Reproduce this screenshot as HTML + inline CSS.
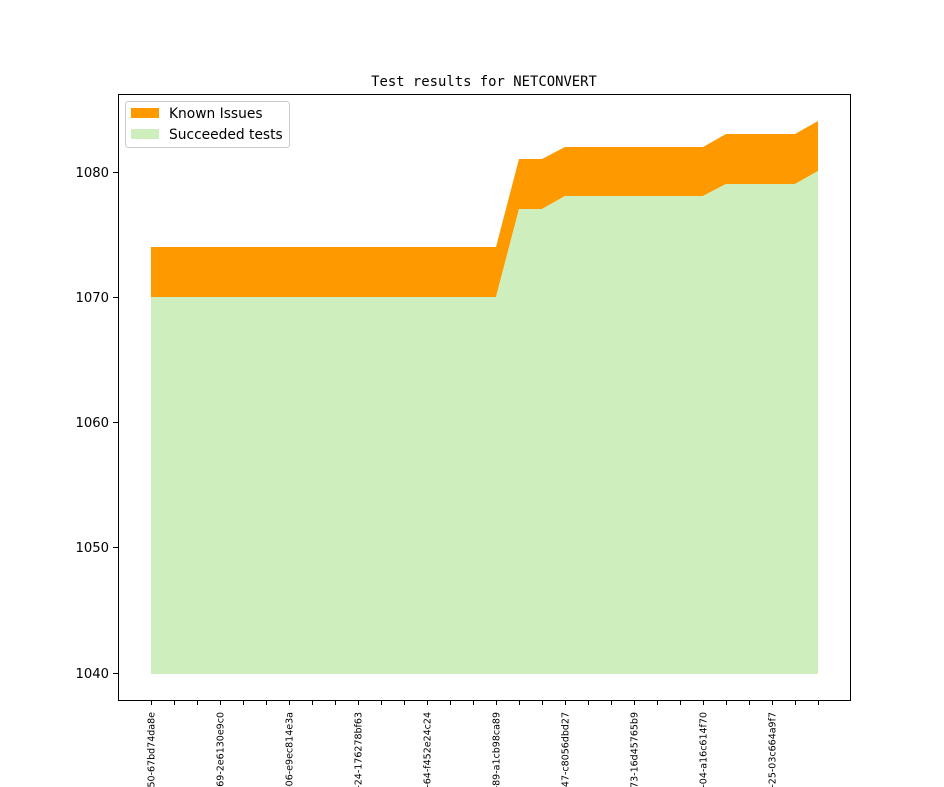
<!DOCTYPE html>
<html><head><style>body{margin:0;background:#fff}svg{display:block}</style></head>
<body>
<svg width="944" height="787" xmlns="http://www.w3.org/2000/svg" font-family="DejaVu Sans, Liberation Sans, sans-serif">
<rect width="944" height="787" fill="#fff"/>
<text x="484" y="86" text-anchor="middle" font-family="DejaVu Sans Mono, Liberation Mono, monospace" font-size="13.9">Test results for NETCONVERT</text>
<polygon fill="#ff9900" points="151,247 496,247 519,159 542,159 565,147 703,147 726,134 795,134 818,121 818,171 795,184 726,184 703,196 565,196 542,209 519,209 496,297 151,297"/>
<polygon fill="#cfeebe" points="151,297 496,297 519,209 542,209 565,196 703,196 726,184 795,184 818,171 818,674 151,674"/>
<rect x="118.5" y="94.5" width="732" height="606" fill="none" stroke="#000" stroke-width="1"/>
<g stroke="#000" stroke-width="1">
<line x1="113" x2="118" y1="172.5" y2="172.5"/><line x1="113" x2="118" y1="297.5" y2="297.5"/><line x1="113" x2="118" y1="422.5" y2="422.5"/><line x1="113" x2="118" y1="547.5" y2="547.5"/><line x1="113" x2="118" y1="673.5" y2="673.5"/>
</g>
<g font-size="13.2" text-anchor="end">
<text x="109" y="177">1080</text><text x="109" y="302">1070</text><text x="109" y="427">1060</text><text x="109" y="552">1050</text><text x="109" y="678">1040</text>
</g>
<g stroke="#000" stroke-width="1" id="ticks"></g>
<g font-size="9.5" id="labs"></g>
<rect x="125.5" y="101.5" width="164" height="46" rx="3" fill="#fff" stroke="#ccc"/>
<rect x="131" y="108" width="28" height="10" fill="#ff9900"/>
<rect x="131" y="129" width="28" height="10" fill="#cfeebe"/>
<text x="169" y="118" font-size="13.8">Known Issues</text>
<text x="169" y="139" font-size="13.8">Succeeded tests</text>
<script>
var t=document.getElementById('ticks'),l=document.getElementById('labs'),ns='http://www.w3.org/2000/svg';
var labs=['50-67bd74da8e','69-2e6130e9c0','06-e9ec814e3a','24-176278bf63','64-f452e24c24','89-a1cb98ca89','47-c8056dbd27','73-16d45765b9','04-a16c614f70','25-03c664a9f7'];
for(var i=0;i<30;i++){var x=151+i*23+0.5;var e=document.createElementNS(ns,'line');e.setAttribute('x1',x);e.setAttribute('x2',x);e.setAttribute('y1',700);e.setAttribute('y2',705);t.appendChild(e);
if(i%3==0){var s=document.createElementNS(ns,'text');s.setAttribute('transform','translate('+(x+3)+',712) rotate(-90)');s.setAttribute('text-anchor','end');s.textContent='0_1_0-'+labs[i/3];l.appendChild(s);}}
</script>
</svg>
</body></html>
